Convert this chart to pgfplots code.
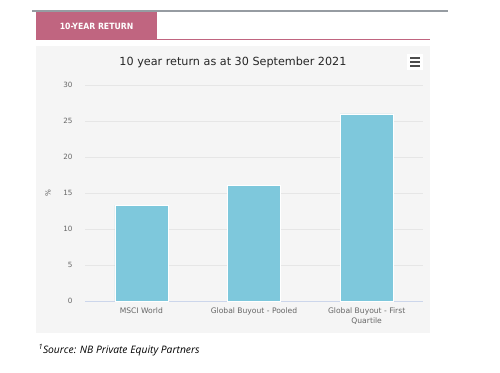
\documentclass[border=0pt]{standalone}
\usepackage{pgfplots}
\pgfplotsset{compat=1.18}
\usepackage{fontspec}
\setmainfont{DejaVu Sans}
\newfontfamily\condfont{DejaVu Sans Condensed}
\newfontfamily\srcfont{Open Sans}
\definecolor{tabpink}{RGB}{192,101,128}
\definecolor{panel}{RGB}{245,245,245}
\definecolor{barblue}{RGB}{126,200,220}
\definecolor{gridc}{RGB}{230,230,230}
\definecolor{axisc}{RGB}{204,214,235}
\definecolor{tickc}{RGB}{102,102,102}
\definecolor{topline}{RGB}{150,156,162}
\begin{document}
\begin{tikzpicture}[x=1pt,y=1pt]
\path[use as bounding box] (0,0) rectangle (500,372);
\draw[topline, line width=1.2pt] (32,361) -- (448,361);
\fill[tabpink] (36,332) rectangle (157,360);
\node[white, font=\condfont\bfseries\fontsize{8.6}{10}\selectfont] at (96.5,346) {10-YEAR RETURN};
\draw[tabpink, line width=1pt] (36,332) -- (430,332);
\fill[panel] (36,39) rectangle (430,326);
\node[font=\fontsize{11.2}{13}\selectfont, text=black!85] at (233,310) {10 year return as at 30 September 2021};
\fill[white] (407,302) rectangle (423,318);
\foreach \yy in {306,310,314} {\draw[black!70, line width=1.5pt] (410,\yy) -- (420,\yy);}
\node[rotate=90, text=tickc, font=\fontsize{7.2}{9}\selectfont] at (48,179) {\%};
\begin{axis}[
  at={(85pt,71pt)}, anchor=south west,
  scale only axis, width=338pt, height=216pt,
  xmin=-0.5, xmax=2.5, ymin=0, ymax=30,
  xtick={0,1,2},
  xticklabels={MSCI World, Global Buyout - Pooled, {Global Buyout - First\\Quartile}},
  xticklabel style={align=center, text=tickc, font=\fontsize{7.6}{10}\selectfont},
  ytick={0,5,10,15,20,25,30},
  yticklabel style={text=tickc, font=\fontsize{7.2}{9}\selectfont},
  /pgf/number format/assume math mode=true,
  ymajorgrids, grid style={gridc, line width=0.8pt},
  axis x line*=bottom, axis y line*=left,
  x axis line style={axisc, line width=0.8pt, -},
  y axis line style={draw=none},
  major tick length=0pt,
  xticklabel shift=3pt, yticklabel shift=9pt,
  clip=false,
]
\addplot[ybar, bar width=53pt, fill=barblue, draw=white, line width=0.6pt]
  coordinates {(0,13.3) (1,16.1) (2,26.0)};
\end{axis}
\node[anchor=west, font=\srcfont\itshape\fontsize{10.3}{12}\selectfont] at (35,22) {\textsuperscript{1}Source: NB Private Equity Partners};
\end{tikzpicture}
\end{document}
